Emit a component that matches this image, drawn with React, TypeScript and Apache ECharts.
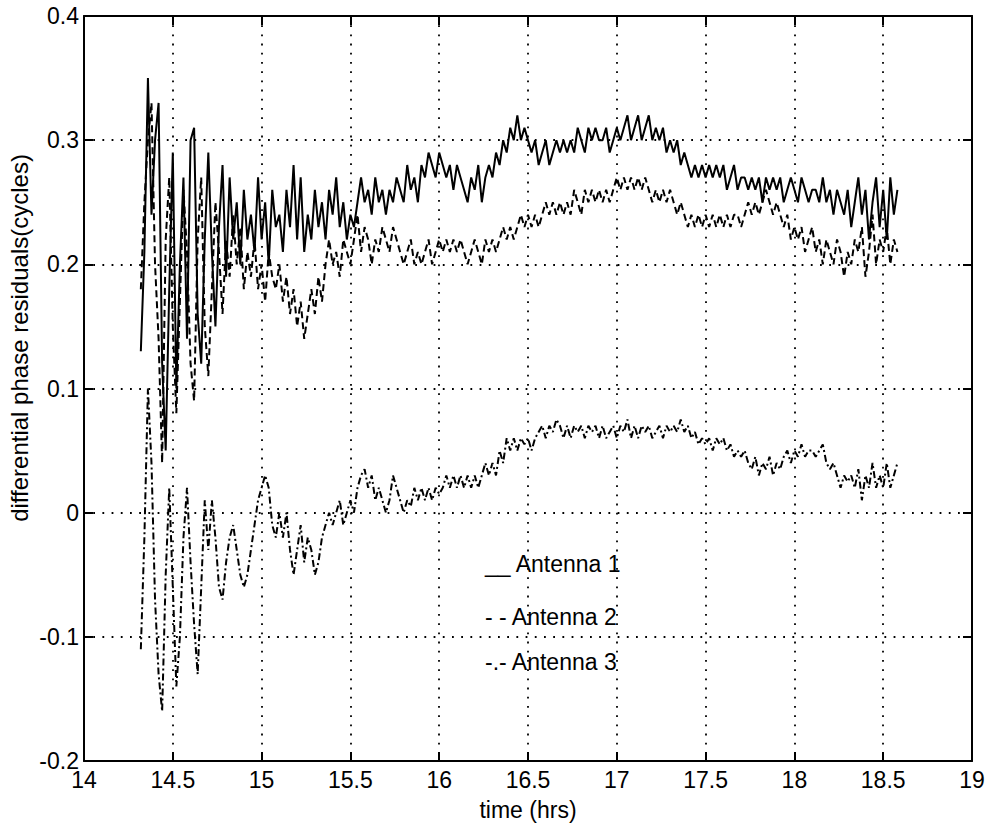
import React, { useEffect, useRef } from "react";
import * as echarts from "echarts";

// time grid: 14.32 h to 18.58 h, one sample every 0.02 h
const T_START = 14.32;
const T_STEP = 0.02;

const antenna1: number[] = [
  0.13, 0.21, 0.35, 0.24, 0.30, 0.33, 0.12, 0.05, 0.18, 0.29,
  0.10, 0.20, 0.27, 0.14, 0.30, 0.31, 0.16, 0.12, 0.22, 0.29,
  0.21, 0.15, 0.23, 0.28, 0.19, 0.27, 0.22, 0.25, 0.20, 0.26,
  0.22, 0.24, 0.21, 0.27, 0.22, 0.25, 0.20, 0.26, 0.23, 0.24,
  0.21, 0.26, 0.23, 0.28, 0.22, 0.27, 0.21, 0.24, 0.22, 0.26,
  0.23, 0.25, 0.22, 0.26, 0.24, 0.27, 0.23, 0.25, 0.22, 0.24,
  0.23, 0.25, 0.27, 0.25, 0.26, 0.24, 0.27, 0.25, 0.26, 0.24,
  0.26, 0.25, 0.27, 0.26, 0.25, 0.28, 0.26, 0.27, 0.25, 0.28,
  0.27, 0.29, 0.28, 0.27, 0.29, 0.28, 0.27, 0.28, 0.26, 0.28,
  0.27, 0.26, 0.25, 0.27, 0.26, 0.28, 0.25, 0.27, 0.28, 0.27,
  0.29, 0.28, 0.30, 0.29, 0.31, 0.30, 0.32, 0.30, 0.31, 0.30,
  0.29, 0.30, 0.28, 0.29, 0.30, 0.28, 0.29, 0.30, 0.29, 0.30,
  0.29, 0.30, 0.29, 0.31, 0.30, 0.29, 0.31, 0.30, 0.31, 0.30,
  0.30, 0.31, 0.29, 0.30, 0.31, 0.30, 0.31, 0.32, 0.30, 0.31,
  0.32, 0.30, 0.31, 0.32, 0.30, 0.31, 0.30, 0.31, 0.29, 0.30,
  0.29, 0.30, 0.28, 0.29, 0.28, 0.27, 0.28, 0.27, 0.28, 0.27,
  0.28, 0.27, 0.28, 0.27, 0.28, 0.26, 0.27, 0.28, 0.26, 0.27,
  0.27, 0.26, 0.27, 0.26, 0.27, 0.25, 0.27, 0.26, 0.27, 0.26,
  0.27, 0.25, 0.26, 0.27, 0.26, 0.25, 0.27, 0.26, 0.25, 0.26,
  0.26, 0.25, 0.27, 0.25, 0.26, 0.24, 0.26, 0.25, 0.24, 0.26,
  0.23, 0.25, 0.27, 0.24, 0.26, 0.22, 0.25, 0.27, 0.23, 0.26,
  0.22, 0.27, 0.24, 0.26,
];

const antenna2: number[] = [
  0.18, 0.25, 0.30, 0.33, 0.20, 0.14, 0.04, 0.22, 0.27, 0.15,
  0.08, 0.17, 0.26, 0.21, 0.12, 0.09, 0.22, 0.27, 0.15, 0.11,
  0.18, 0.25, 0.21, 0.16, 0.22, 0.19, 0.24, 0.20, 0.23, 0.18,
  0.21, 0.19, 0.22, 0.18, 0.20, 0.17, 0.21, 0.19, 0.18, 0.20,
  0.17, 0.19, 0.16, 0.18, 0.15, 0.17, 0.14, 0.16, 0.18, 0.16,
  0.19, 0.17, 0.20, 0.22, 0.20, 0.21, 0.19, 0.22, 0.21, 0.20,
  0.22, 0.24, 0.21, 0.23, 0.22, 0.20, 0.22, 0.21, 0.23, 0.22,
  0.21, 0.23, 0.22, 0.21, 0.20, 0.21, 0.22, 0.20, 0.21, 0.20,
  0.21, 0.22, 0.20, 0.21, 0.22, 0.21, 0.22, 0.21, 0.22, 0.21,
  0.22, 0.21, 0.20, 0.21, 0.22, 0.21, 0.20, 0.22, 0.21, 0.22,
  0.21, 0.22, 0.23, 0.22, 0.23, 0.22, 0.23, 0.24, 0.23, 0.24,
  0.23, 0.24, 0.23, 0.24, 0.25, 0.24, 0.25, 0.24, 0.25, 0.24,
  0.25, 0.24, 0.26, 0.25, 0.24, 0.26, 0.25, 0.26, 0.25, 0.26,
  0.25, 0.26, 0.25, 0.26, 0.27, 0.26, 0.27, 0.26, 0.27, 0.26,
  0.27, 0.26, 0.27, 0.26, 0.25, 0.26, 0.25, 0.26, 0.25, 0.26,
  0.25, 0.24, 0.25, 0.24, 0.23, 0.24, 0.23, 0.24, 0.23, 0.24,
  0.23, 0.24, 0.23, 0.24, 0.23, 0.24, 0.23, 0.24, 0.24, 0.23,
  0.24, 0.25, 0.24, 0.25, 0.24, 0.25, 0.26, 0.25, 0.24, 0.25,
  0.24, 0.23, 0.24, 0.22, 0.23, 0.22, 0.23, 0.21, 0.22, 0.23,
  0.21, 0.22, 0.20, 0.22, 0.21, 0.20, 0.22, 0.21, 0.19, 0.21,
  0.20, 0.22, 0.21, 0.23, 0.19, 0.21, 0.24, 0.20, 0.22, 0.21,
  0.23, 0.20, 0.22, 0.21,
];

const antenna3: number[] = [
  -0.11, -0.02, 0.10, 0.04, -0.07, -0.13, -0.16, -0.05, 0.02, -0.06,
  -0.14, -0.10, -0.02, 0.02, -0.04, -0.09, -0.13, -0.06, 0.01, -0.03,
  0.01, -0.02, -0.06, -0.07, -0.04, -0.02, -0.01, -0.03, -0.05, -0.06,
  -0.05, -0.03, -0.01, 0.01, 0.02, 0.03, 0.02, -0.01, -0.02, 0.0,
  -0.02, 0.0, -0.03, -0.05, -0.03, -0.01, -0.04, -0.02, -0.03, -0.05,
  -0.04, -0.02, -0.01, 0.0, -0.01, 0.0, 0.01, -0.01, 0.0, 0.01,
  0.0, 0.02, 0.03, 0.035, 0.02, 0.03, 0.01, 0.02, 0.01, 0.0,
  0.01, 0.03, 0.02, 0.01, 0.0, 0.01, 0.005, 0.02, 0.01, 0.02,
  0.01, 0.02, 0.01, 0.02, 0.015, 0.02, 0.03, 0.02, 0.03, 0.02,
  0.03, 0.02, 0.03, 0.02, 0.03, 0.02, 0.03, 0.04, 0.03, 0.04,
  0.03, 0.05, 0.04, 0.06, 0.05, 0.06, 0.05, 0.06, 0.055, 0.06,
  0.05, 0.06, 0.065, 0.07, 0.06, 0.07, 0.065, 0.075, 0.07, 0.06,
  0.07, 0.06, 0.07, 0.065, 0.07, 0.06, 0.07, 0.065, 0.07, 0.06,
  0.07, 0.06, 0.065, 0.07, 0.06, 0.07, 0.065, 0.075, 0.06, 0.07,
  0.06, 0.07, 0.065, 0.07, 0.06, 0.065, 0.07, 0.06, 0.07, 0.065,
  0.07, 0.065, 0.075, 0.065, 0.07, 0.06, 0.065, 0.055, 0.06, 0.055,
  0.06, 0.05, 0.06, 0.055, 0.06, 0.05, 0.055, 0.045, 0.05, 0.045,
  0.05, 0.04, 0.035, 0.045, 0.03, 0.04, 0.035, 0.045, 0.03, 0.04,
  0.035, 0.045, 0.05, 0.04, 0.05, 0.045, 0.055, 0.045, 0.05, 0.05,
  0.045, 0.05, 0.055, 0.04, 0.035, 0.04, 0.03, 0.02, 0.03, 0.025,
  0.03, 0.02, 0.035, 0.01, 0.03, 0.02, 0.04, 0.02, 0.03, 0.02,
  0.04, 0.02, 0.03, 0.04,
];

const xTicks = { min: 14, max: 19, interval: 0.5 };
const yTicks = { min: -0.2, max: 0.4, interval: 0.1 };

const seriesNames = ["Antenna 1", "Antenna 2", "Antenna 3"];
const legendLabels = ["__ Antenna 1", "- - Antenna 2", "-.- Antenna 3"];

const FONT = "'Liberation Sans', Arial, Helvetica, sans-serif";

function toPairs(values: number[]): [number, number][] {
  return values.map((v, i) => [Number((T_START + i * T_STEP).toFixed(2)), v]);
}

export default function App() {
  const ref = useRef<HTMLDivElement | null>(null);

  useEffect(() => {
    document.body.style.margin = "0";
    if (!ref.current) return;
    const chart = echarts.init(ref.current, undefined, { renderer: "svg" });

    const axisLine = { show: true, onZero: false, lineStyle: { color: "#000", width: 2 } };
    const axisTick = { show: true, inside: true, length: 9, lineStyle: { color: "#000", width: 2 } };
    const splitLine = { show: true, lineStyle: { color: "#000", width: 1.8, type: [1.8, 7.4] as any } };
    const fmt = (v: number) => String(Number(v.toFixed(2)));

    const option: any = {
      animation: false,
      backgroundColor: "#fff",
      grid: { left: 84, top: 16, width: 888, height: 746 },
      xAxis: [
        {
          type: "value",
          position: "bottom",
          ...xTicks,
          axisLine,
          axisTick,
          splitLine,
          axisLabel: { color: "#000", fontSize: 23, fontFamily: FONT, margin: 7, formatter: fmt },
          name: "time (hrs)",
          nameLocation: "middle",
          nameGap: 37,
          nameTextStyle: { color: "#000", fontSize: 23, fontFamily: FONT },
        },
        {
          type: "value",
          position: "top",
          ...xTicks,
          axisLine,
          axisTick,
          splitLine: { show: false },
          axisLabel: { show: false },
        },
      ],
      yAxis: [
        {
          type: "value",
          position: "left",
          ...yTicks,
          axisLine,
          axisTick,
          splitLine,
          axisLabel: { color: "#000", fontSize: 23, fontFamily: FONT, margin: 5, formatter: fmt },
        },
        {
          type: "value",
          position: "right",
          ...yTicks,
          axisLine,
          axisTick,
          splitLine: { show: false },
          axisLabel: { show: false },
        },
      ],
      graphic: [
        {
          type: "text",
          x: 19,
          y: 338,
          rotation: Math.PI / 2,
          style: {
            text: "differential phase residuals(cycles)",
            fill: "#000",
            font: `24px ${FONT}`,
            align: "center",
            verticalAlign: "middle",
          },
        },
        ...legendLabels.map((label, i) => ({
          type: "text",
          left: 485,
          top: [552, 605, 650][i],
          style: { text: label, fill: "#000", font: `23px ${FONT}` },
        })),
      ],
      series: [
        {
          name: seriesNames[0],
          type: "line",
          data: toPairs(antenna1),
          showSymbol: false,
          symbol: "none",
          lineStyle: { color: "#000", width: 2, type: "solid" },
        },
        {
          name: seriesNames[1],
          type: "line",
          data: toPairs(antenna2),
          showSymbol: false,
          symbol: "none",
          lineStyle: { color: "#000", width: 2, type: [7, 4] },
        },
        {
          name: seriesNames[2],
          type: "line",
          data: toPairs(antenna3),
          showSymbol: false,
          symbol: "none",
          lineStyle: { color: "#000", width: 2, type: [7, 3, 2, 3] },
        },
      ],
    };

    chart.setOption(option);
    return () => chart.dispose();
  }, []);

  return <div ref={ref} style={{ width: 988, height: 826 }} />;
}
